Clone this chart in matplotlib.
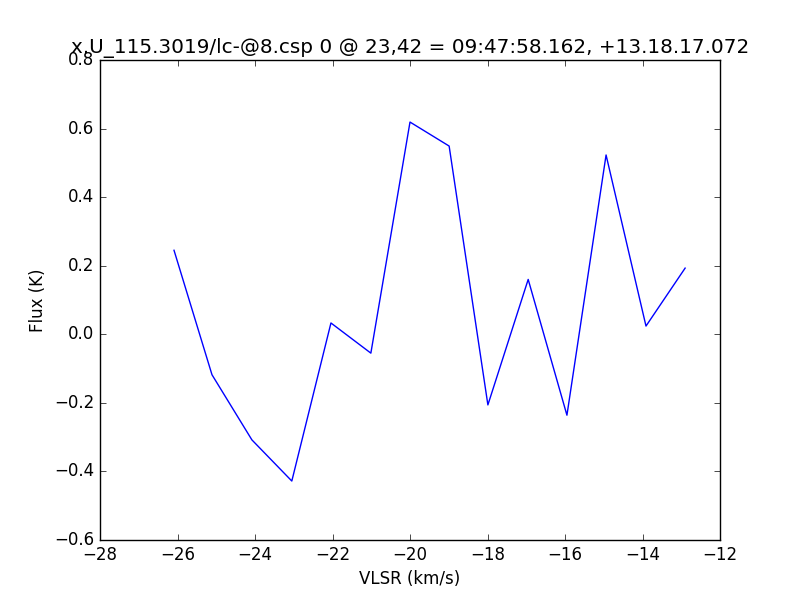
import matplotlib
matplotlib.use("Agg")
import matplotlib.pyplot as plt

plt.style.use("classic")

# channel velocities and flux
vlsr = [-26.09, -25.11, -24.08, -23.05, -22.04, -21.01, -20.00,
        -18.99, -17.99, -16.95, -15.95, -14.94, -13.91, -12.90]
flux = [0.245, -0.118, -0.308, -0.428, 0.033, -0.055, 0.619,
        0.549, -0.206, 0.160, -0.236, 0.523, 0.024, 0.193]

title = "x.U_115.3019/lc-@8.csp 0 @ 23,42 = 09:47:58.162, +13.18.17.072"

fig = plt.figure(figsize=(8, 6), dpi=100, facecolor="white")
ax = fig.add_subplot(111)
ax.plot(vlsr, flux, color="blue", linewidth=1.0)
ax.set_xlim(-28, -12)
ax.set_ylim(-0.6, 0.8)
ax.set_xlabel("VLSR (km/s)")
ax.set_ylabel("Flux (K)")
ax.set_title(title)

fig.savefig("out.png", dpi=100, facecolor="white")
